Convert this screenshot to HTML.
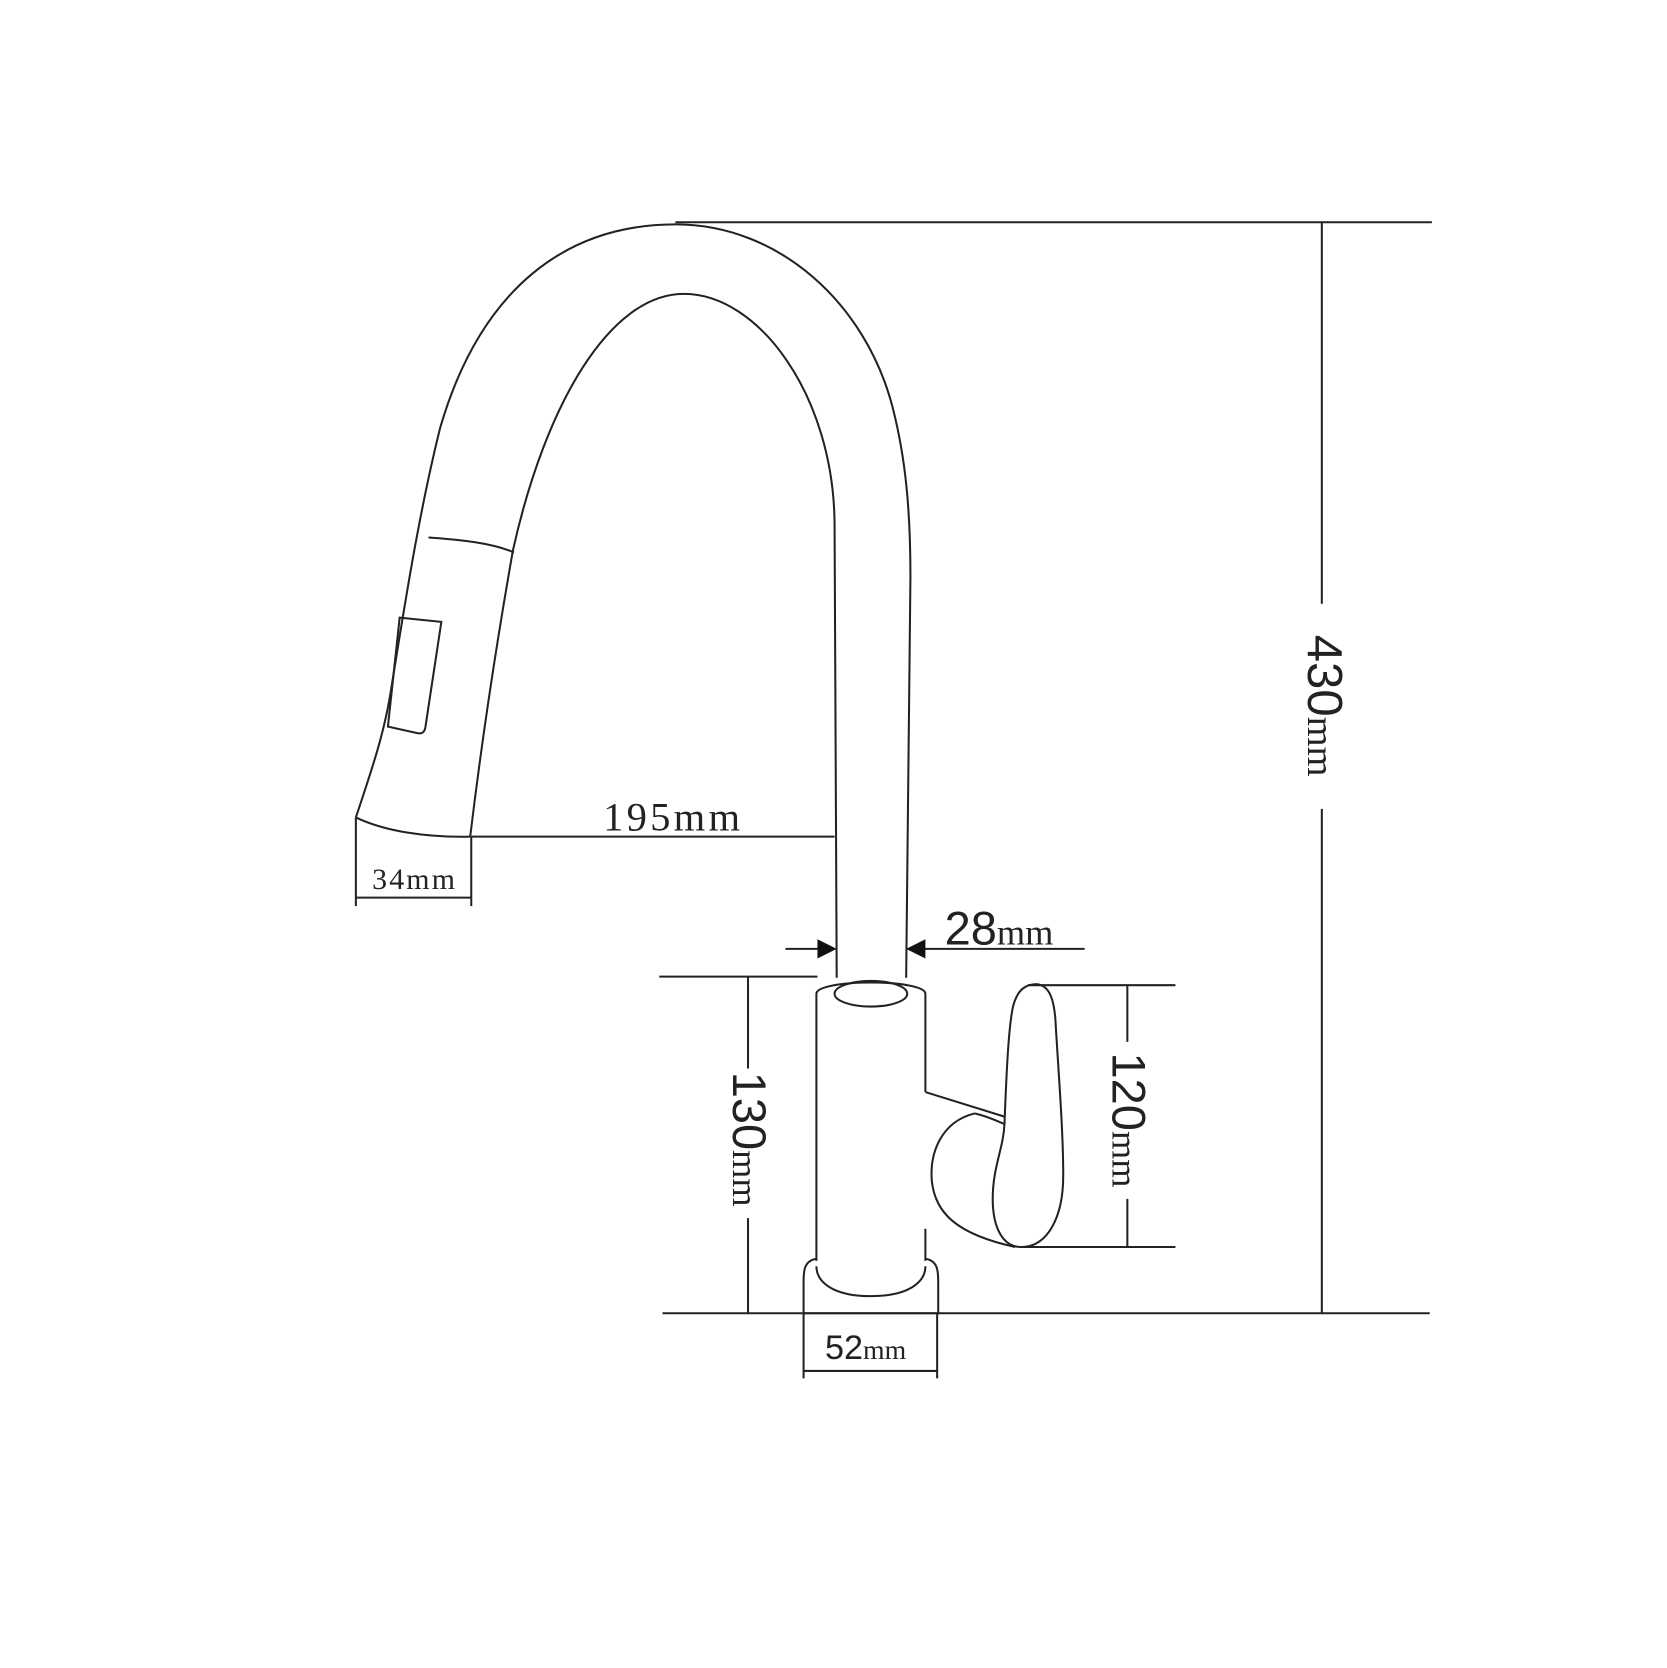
<!DOCTYPE html>
<html><head><meta charset="utf-8"><style>
html,body{margin:0;padding:0;background:#fff;}
svg{display:block}
.s{font-family:"Liberation Sans",sans-serif}
.r{font-family:"Liberation Serif",serif}
</style></head><body>
<svg width="1667" height="1668" viewBox="0 0 1560 1561" xmlns="http://www.w3.org/2000/svg">
<g fill="none" stroke="#222" stroke-width="1.9">
<line x1="632" y1="208" x2="1340" y2="208"/>
<line x1="620" y1="1229" x2="1338" y2="1229"/>
<line x1="1237" y1="208" x2="1237" y2="565"/>
<line x1="1237" y1="757" x2="1237" y2="1229"/>
<!-- spout outer -->
<path d="M333,765 C348,720 360,685 366,645 C378,570 392,480 412,400 C450,270 530,210 632,210 C730,210 810,285 835,380 C848,430 852,480 852,540 L848,915"/>
<!-- spout inner -->
<path d="M440,783 C450,700 465,600 480,515 C510,380 570,275 640,275 C710,275 780,370 781,490 L783,915"/>
<path d="M401,503 C430,505 460,508 481,517"/>
<path d="M374,578 L413,582 L398,681 C397,686 394,687 390,686 L363,680 Z"/>
<path d="M333,765 C360,778 400,784 440,783"/>
<line x1="333" y1="765" x2="333" y2="848"/>
<line x1="441" y1="783" x2="441" y2="848"/>
<line x1="333" y1="840" x2="441" y2="840"/>
<line x1="441" y1="783" x2="781" y2="783"/>
<line x1="735" y1="888" x2="770" y2="888"/>
<line x1="862" y1="888" x2="1015" y2="888"/>
<!-- body -->
<path d="M764,1180 L764,930 C764,916 866,916 866,930 L866,1022"/>
<ellipse cx="815" cy="930" rx="34" ry="12"/>
<path d="M866,1022 L940,1045"/>
<path d="M866,1180 L866,1150"/>
<path d="M764,1178 C752,1180 752,1190 752,1200 L752,1229 L878,1229 L878,1200 C878,1190 878,1180 866,1178"/>
<path d="M764,1185 C764,1200 780,1213 815,1213 C850,1213 866,1200 866,1185"/>
<!-- handle -->
<path d="M912,1042 C880,1050 870,1080 872,1105 C875,1135 895,1155 950,1167"/>
<path d="M912,1042 C925,1045 935,1050 940,1052"/>
<path d="M940,1052 C942,1000 944,960 948,942 C952,926 960,921 970,921 C982,922 987,935 988,960 C991,1010 995,1060 995,1100 C995,1140 980,1166 957,1167 C938,1168 929,1148 929,1122 C929,1092 939,1075 940,1052"/>
<line x1="617" y1="914" x2="765" y2="914"/>
<line x1="700" y1="914" x2="700" y2="1000"/>
<line x1="700" y1="1140" x2="700" y2="1229"/>
<line x1="962" y1="922" x2="1100" y2="922"/>
<line x1="955" y1="1167" x2="1100" y2="1167"/>
<line x1="1055" y1="922" x2="1055" y2="975"/>
<line x1="1055" y1="1122" x2="1055" y2="1167"/>
<line x1="752" y1="1229" x2="752" y2="1290"/>
<line x1="877" y1="1229" x2="877" y2="1290"/>
<line x1="752" y1="1283" x2="877" y2="1283"/>
</g>
<path d="M783,888 L765,879 L765,897 Z" fill="#111"/>
<path d="M848,888 L866,879 L866,897 Z" fill="#111"/>
<text x="630" y="777" text-anchor="middle" class="r" font-size="38" fill="#222" letter-spacing="3">195mm</text>
<text x="388" y="832" text-anchor="middle" class="r" font-size="28" fill="#222" letter-spacing="2">34mm</text>
<text x="884" y="884" class="s" font-size="44" fill="#222">28<tspan class="r" font-size="34">mm</tspan></text>
<text x="772" y="1272" class="s" font-size="32" fill="#222">52<tspan class="r" font-size="26">mm</tspan></text>
<text transform="translate(1224,594) rotate(90)" class="s" font-size="46" fill="#222">430<tspan class="r" font-size="36">mm</tspan></text>
<text transform="translate(686,1003) rotate(90)" class="s" font-size="44" fill="#222">130<tspan class="r" font-size="34">mm</tspan></text>
<text transform="translate(1041,985) rotate(90)" class="s" font-size="44" fill="#222">120<tspan class="r" font-size="34">mm</tspan></text>
</svg>
</body></html>
